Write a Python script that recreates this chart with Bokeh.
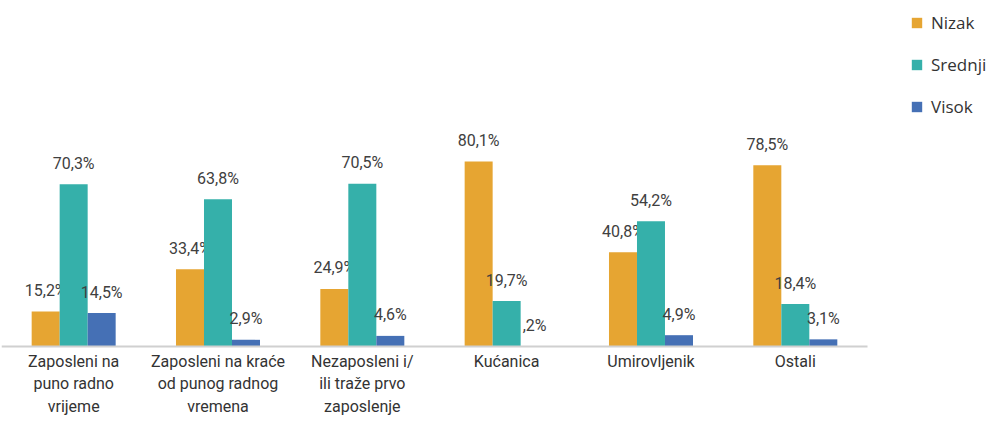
from bokeh.plotting import figure
from bokeh.models import Range1d, FixedTicker, Legend, LegendItem, ColumnDataSource
from bokeh.core.properties import value
from bokeh.embed import file_html
from bokeh.resources import INLINE

categories = ["Zaposleni na\npuno radno\nvrijeme",
              "Zaposleni na kraće\nod punog radnog\nvremena",
              "Nezaposleni i/\nili traže prvo\nzaposlenje",
              "Kućanica", "Umirovljenik", "Ostali"]
series = ["Nizak", "Srednji", "Visok"]
nizak = [15.2, 33.4, 24.9, 80.1, 40.8, 78.5]
srednji = [70.3, 63.8, 70.5, 19.7, 54.2, 18.4]
visok = [14.5, 2.9, 4.6, 0.2, 4.9, 3.1]
labels_nizak = ["15,2%", "33,4%", "24,9%", "80,1%", "40,8%", "78,5%"]
labels_srednji = ["70,3%", "63,8%", "70,5%", "19,7%", "54,2%", "18,4%"]
labels_visok = ["14,5%", "2,9%", "4,6%", ",2%", "4,9%", "3,1%"]
colors = ["#E6A532", "#35B0AA", "#4570B5"]

W, H = 987, 419
unit_px = 144.33
frame_w = W - 1
x_end = frame_w / unit_px

p = figure(width=W, height=H, output_backend="svg", toolbar_location=None,
           x_range=Range1d(0, x_end),
           y_range=Range1d(-31.6, 149.8),
           min_border_left=1, min_border_right=0, min_border_top=0, min_border_bottom=0)
p.outline_line_color = None
p.grid.visible = False
p.yaxis.visible = False
p.background_fill_color = "white"

centers = [i + 0.5 for i in range(len(categories))]
bw = 0.194
offsets = [-bw, 0, bw]
renderers = []
for vals, labs, off, col in zip([nizak, srednji, visok],
                                [labels_nizak, labels_srednji, labels_visok],
                                offsets, colors):
    xs = [c + off for c in centers]
    src = ColumnDataSource(dict(x=xs, top=vals, lab=labs))
    r = p.vbar(x="x", top="top", width=bw, bottom=0, source=src,
               fill_color=col, line_color=None)
    renderers.append(r)
    p.text(x="x", y="top", text="lab", source=src, text_align="center",
           text_baseline="alphabetic", y_offset=-21, text_font=value("Roboto"),
           text_font_size="16px", text_color="#404040")

ax = p.xaxis[0]
ax.fixed_location = 0
ax.ticker = FixedTicker(ticks=centers)
ax.major_label_overrides = {c: lab for c, lab in zip(centers, categories)}
ax.bounds = (0, len(categories))
ax.axis_line_color = "#d0d0d0"
ax.axis_line_width = 2
ax.major_tick_line_color = None
ax.minor_tick_line_color = None
ax.major_tick_out = 0
ax.major_tick_in = 0
ax.minor_tick_out = 0
ax.minor_tick_in = 0
ax.major_label_standoff = 5
ax.major_label_text_font = "Roboto"
ax.major_label_text_font_size = "16px"
ax.major_label_text_color = "#333333"

legend = Legend(items=[LegendItem(label=s, renderers=[r]) for s, r in zip(series, renderers)],
                location=(909, 301), glyph_width=13, glyph_height=13,
                label_height=20, spacing=19, label_text_font="Open Sans",
                label_text_font_size="17px", label_text_color="#333333",
                border_line_color=None, background_fill_alpha=0, padding=0, margin=0,
                label_standoff=8)
p.add_layout(legend, "center")

open("out.html", "w").write(file_html(p, INLINE))
